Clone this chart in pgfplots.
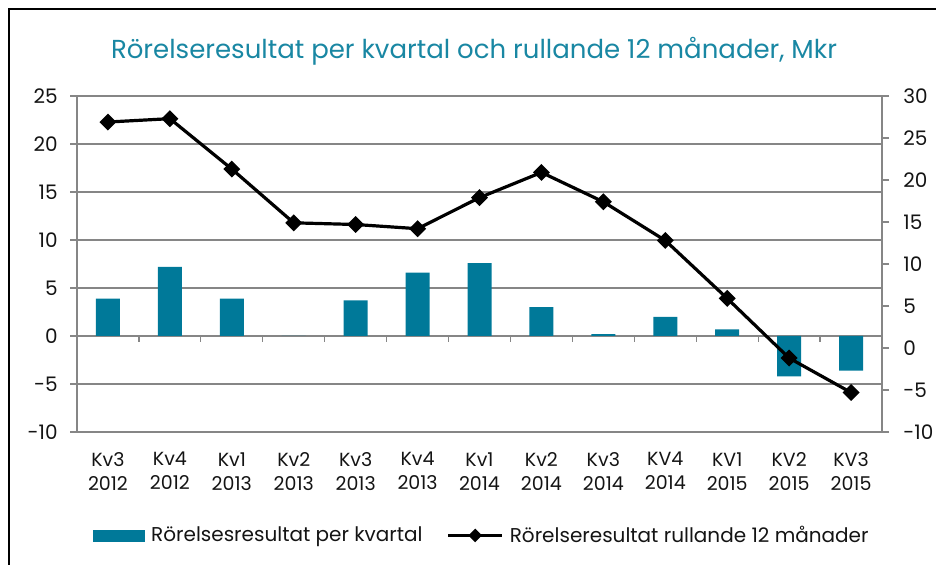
\documentclass[border=0pt]{standalone}
\usepackage{pgfplots}
\pgfplotsset{compat=1.18}
\usepackage{fontspec}
\setmainfont{Poppins}
\definecolor{barc}{RGB}{0,121,153}
\definecolor{titc}{RGB}{25,135,163}
\definecolor{gridc}{RGB}{134,134,134}
\definecolor{txtc}{RGB}{20,20,20}
\pgfplotstableread{
x bar roll
0  3.9  26.9
1  7.2  27.3
2  3.9  21.3
3  0.0  14.9
4  3.7  14.7
5  6.6  14.2
6  7.6  17.9
7  3.0  20.9
8  0.2  17.4
9  2.0  12.8
10 0.7   5.9
11 -4.2 -1.2
12 -3.6 -5.3
}\datatable
\begin{document}
\begin{tikzpicture}
\pgfplotsset{
  common/.style={
    at={(38.5pt,66.5pt)}, anchor=south west,
    scale only axis, width=402.5pt, height=168pt,
    xmin=-0.5, xmax=12.5,
    /pgf/number format/assume math mode=true,
    tick align=outside, major tick length=3.5pt,
    axis line style={gridc, line width=0.65pt},
    tick style={gridc, line width=0.65pt},
    ticklabel style={font=\fontsize{10}{12}\selectfont, text=txtc},
  }
}
\begin{axis}[common,
  ymin=-10, ymax=25, ytick={-10,-5,...,25},
  yticklabels={-10,-5,0,5,10,15,20,25},
  ytick pos=left,
  ymajorgrids, grid style={gridc, line width=0.65pt},
  xtick={0,...,12}, xtick pos=bottom, x tick style={draw=none},
  xticklabels={{Kv3\\2012},{Kv4\\2012},{Kv1\\2013},{Kv2\\2013},{Kv3\\2013},{Kv4\\2013},{Kv1\\2014},{Kv2\\2014},{Kv3\\2014},{KV4\\2014},{KV1\\2015},{KV2\\2015},{KV3\\2015}},
  xticklabel style={align=center, anchor=north, inner sep=0pt, yshift=-6.5pt, font=\fontsize{9.5}{12}\selectfont},
  yticklabel style={anchor=east, inner sep=0pt, xshift=-6pt},
]
\addplot[ybar, bar width=12pt, fill=barc, draw=none] table[x=x, y=bar] {\datatable};
\pgfplotsinvokeforeach{0,...,11}{
  \draw[gridc, line width=0.65pt] (axis cs:#1+0.5,0) -- ++(0pt,-3pt);
}
\end{axis}
\begin{axis}[common,
  ymin=-10, ymax=30, ytick={-10,-5,...,30},
  yticklabels={-10,-5,0,5,10,15,20,25,30},
  axis x line=none, axis y line*=right,
  yticklabel style={anchor=west, inner sep=0pt, xshift=7pt},
  legend style={at={(0.0199,-0.308)}, anchor=west, draw=none, fill=none, inner sep=0pt,
    legend columns=2, font=\fontsize{10}{12}\selectfont, text=txtc,
    nodes={inner sep=0pt, anchor=west},
    /tikz/every odd column/.append style={column sep=3pt},
    /tikz/every even column/.append style={column sep=12pt}},
]
\addlegendimage{legend image code/.code={\fill[barc] (0pt,-2.75pt) rectangle (25.5pt,2.75pt);}}
\addlegendentry{Rörelsesresultat per kvartal}
\addplot[black, line width=1.6pt, mark=square*, mark size=2.2pt, mark options={rotate=45},
  legend image code/.code={\draw[black, line width=1.6pt, mark=square*, mark options={rotate=45}, mark size=1.6pt, mark repeat=2, mark phase=2] plot coordinates {(0pt,0pt) (13.5pt,0pt) (27pt,0pt)};}]
  table[x=x, y=roll] {\datatable};
\addlegendentry{Rörelseresultat rullande 12 månader}
\end{axis}
\node[anchor=base, text=titc, font=\fontsize{13}{15}\selectfont, inner sep=0pt] at (237pt,253pt) {Rörelseresultat per kvartal och rullande 12 månader, Mkr};
\pgfresetboundingbox
\path[use as bounding box] (0pt,0pt) rectangle (468pt,282.5pt);
\draw[black, line width=1.3pt] (4.5pt,-2pt) -- (4.5pt,278pt) -- (470pt,278pt);
\end{tikzpicture}
\end{document}
